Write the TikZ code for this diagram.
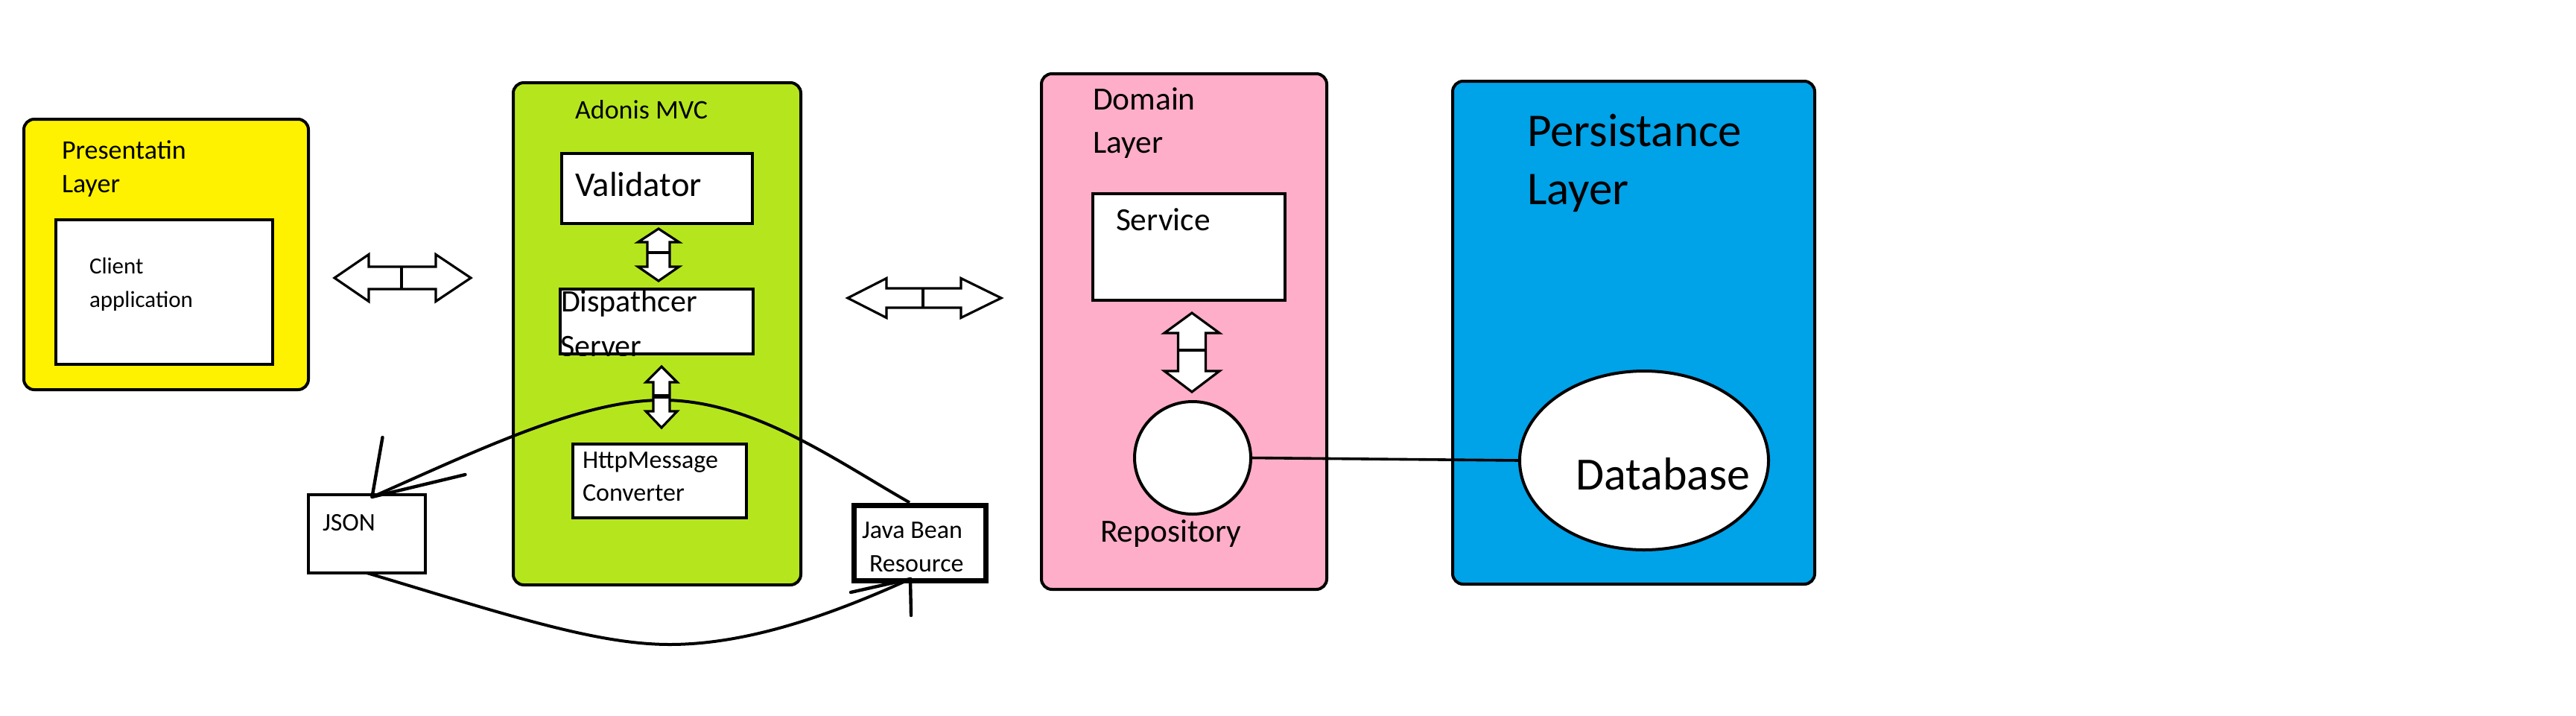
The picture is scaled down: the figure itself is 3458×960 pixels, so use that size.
\documentclass[tikz,border=0pt]{standalone}
\usepackage{fontspec}
\setmainfont{Carlito}
\usetikzlibrary{shapes.geometric,calc}
\definecolor{pyellow}{HTML}{FFF200}
\definecolor{pgreen}{HTML}{B5E61D}
\definecolor{ppink}{HTML}{FFAEC9}
\definecolor{pblue}{HTML}{00A2E8}
\newcommand{\mkHArrow}[8]{% cy, x1, x2, xm, x3, x4, head half, shaft half
  \draw[blk] (#2,#1) -- (#3,#1-#7) -- (#3,#1-#8) -- (#5,#1-#8) -- (#5,#1-#7) -- (#6,#1)
    -- (#5,#1+#7) -- (#5,#1+#8) -- (#3,#1+#8) -- (#3,#1+#7) -- cycle;
  \draw[blk] (#4,#1-#8) -- (#4,#1+#8);}
\newcommand{\mkVArrow}[9]{% cx, y1, y2, ym, y3, y4, head half, shaft half, divider width
  \draw[blk] (#1,#2) -- (#1+#7,#3) -- (#1+#8,#3) -- (#1+#8,#5) -- (#1+#7,#5) -- (#1,#6)
    -- (#1-#7,#5) -- (#1-#8,#5) -- (#1-#8,#3) -- (#1-#7,#3) -- cycle;
  \draw[blk,line width=#9] (#1-#8,#4) -- (#1+#8,#4);}
\begin{document}
\begin{tikzpicture}[x=0.5pt,y=-0.5pt,
  layer/.style={draw, line width=2pt, rounded corners=7pt, inner sep=0pt, outer sep=0pt},
  inbox/.style={draw, fill=white, line width=2pt, inner sep=0pt, outer sep=0pt},
  oval/.style={ellipse, draw, fill=white, line width=2pt, inner sep=0pt, outer sep=0pt},
  lbl/.style={anchor=base west, inner sep=0pt, outer sep=0pt},
  blk/.style={draw, fill=white, line width=1.6pt, line join=miter},
  link/.style={line width=2pt},
  tipline/.style={line width=2.2pt, line cap=round}]
\useasboundingbox (0,0) rectangle (3458,960);
\fill[white] (0,0) rectangle (3458,960);

% layers
\node[layer, fill=pyellow, minimum width=191pt, minimum height=181.5pt] (pres) at (223,341.5) {};
\node[layer, fill=pgreen, minimum width=193pt, minimum height=337pt] (adonis) at (882,448) {};
\node[layer, fill=ppink, minimum width=191.5pt, minimum height=346pt] (domain) at (1589.5,445) {};
\node[layer, fill=pblue, minimum width=243pt, minimum height=337.5pt] (persist) at (2193,446.5) {};

% inner boxes
\node[inbox, minimum width=145.5pt, minimum height=97pt] (client) at (220.5,392) {};
\node[inbox, minimum width=128pt, minimum height=47pt] (valid) at (882,253) {};
\node[inbox, minimum width=129.5pt, minimum height=43.5pt] (disp) at (881.5,431.5) {};
\node[inbox, minimum width=116.5pt, minimum height=49.5pt] (http) at (885.5,645.5) {};
\node[inbox, minimum width=78.5pt, minimum height=52.5pt] (json) at (492.5,716.5) {};
\node[inbox, line width=3.5pt, minimum width=88.5pt, minimum height=50.5pt] (javabean) at (1235,729) {};
\node[inbox, minimum width=129pt, minimum height=71.5pt] (service) at (1596,331.5) {};
\node[oval, minimum width=78pt, minimum height=75.5pt] (repo) at (1601,614.5) {};
\node[oval, minimum width=167pt, minimum height=120pt] (db) at (2207,618) {};

% texts
\node[lbl, font=\fontsize{18}{18}\selectfont] (presT1) at (83,213) {Presentatin};
\node[lbl, font=\fontsize{18}{18}\selectfont] (presT2) at (83,258) {Layer};
\node[lbl, font=\fontsize{15.5}{15.5}\selectfont] (clientT1) at (120,367) {Client};
\node[lbl, font=\fontsize{15.5}{15.5}\selectfont] (clientT2) at (120,412) {application};
\node[lbl, font=\fontsize{18}{18}\selectfont] (adonisT) at (772,159) {Adonis MVC};
\node[lbl, font=\fontsize{23.3}{23.3}\selectfont] (validT) at (772,263) {Validator};
\begin{scope}
  \clip (750,386) rectangle (1013,477);
  \node[lbl, font=\fontsize{21}{21}\selectfont] (dispT1) at (753,418) {Dispathcer};
  \node[lbl, font=\fontsize{21}{21}\selectfont] (dispT2) at (752,478) {Server};
\end{scope}
\draw[line width=2pt] (disp.south west) -- (disp.south east);
\node[lbl, font=\fontsize{17}{17}\selectfont] (httpT1) at (782,628) {HttpMessage};
\node[lbl, font=\fontsize{17}{17}\selectfont] (httpT2) at (782,672) {Converter};
\node[lbl, font=\fontsize{17}{17}\selectfont] (jsonT) at (433,712) {JSON};
\node[lbl, font=\fontsize{17}{17}\selectfont] (jbT1) at (1157,722) {Java Bean};
\node[lbl, font=\fontsize{17}{17}\selectfont] (jbT2) at (1167,767) {Resource};
\node[lbl, font=\fontsize{21.7}{21.7}\selectfont] (domT1) at (1467,147) {Domain};
\node[lbl, font=\fontsize{21.7}{21.7}\selectfont] (domT2) at (1467,205) {Layer};
\node[lbl, font=\fontsize{21.7}{21.7}\selectfont] (servT) at (1498,309) {Service};
\node[lbl, font=\fontsize{21.7}{21.7}\selectfont] (repoT) at (1477,727) {Repository};
\node[lbl, font=\fontsize{31.5}{31.5}\selectfont] (perT1) at (2050,196) {Persistance};
\node[lbl, font=\fontsize{31.5}{31.5}\selectfont] (perT2) at (2050,274) {Layer};
\node[lbl, font=\fontsize{31}{31}\selectfont] (dbT) at (2115,657) {Database};

% connector end points
\coordinate (jsonTip) at ($(json.north)+(7,3)$);
\coordinate (jbTop) at ($(javabean.north)+(-14,-4)$);
\coordinate (jbTip) at ($(javabean.south)+(-13,-2.5)$);

% curves
\draw[link] (jbTop) .. controls (1120,617) and (1010,537) .. (889,537)
  .. controls (780,537) and (640,605) .. (jsonTip);
\draw[tipline] (jsonTip) -- ++(14,-80);
\draw[tipline] (jsonTip) -- ++(125,-30);
\draw[link] (json.south) .. controls (680,825) and (800,865) .. (899,865)
  .. controls (1000,865) and (1110,828) .. (jbTip);
\draw[tipline] (jbTip) -- ++(-80,18);
\draw[tipline] (jbTip) -- ++(1,49);

% repository to database
\draw[line width=1.8pt] (repo.east) -- (db.west);

% block arrows
\mkHArrow{373}{449}{495}{539}{585}{632}{31.5}{15}
\mkHArrow{400}{1138}{1190}{1239}{1290}{1344}{26.5}{13}
\mkVArrow{884}{307}{325}{339}{358}{377}{27.5}{15}{2.2pt}
\mkVArrow{888}{492}{513}{532}{552}{574}{21}{11}{3pt}
\mkVArrow{1600}{420}{447}{470}{498}{526}{37}{18.5}{2.4pt}
\end{tikzpicture}
\end{document}
